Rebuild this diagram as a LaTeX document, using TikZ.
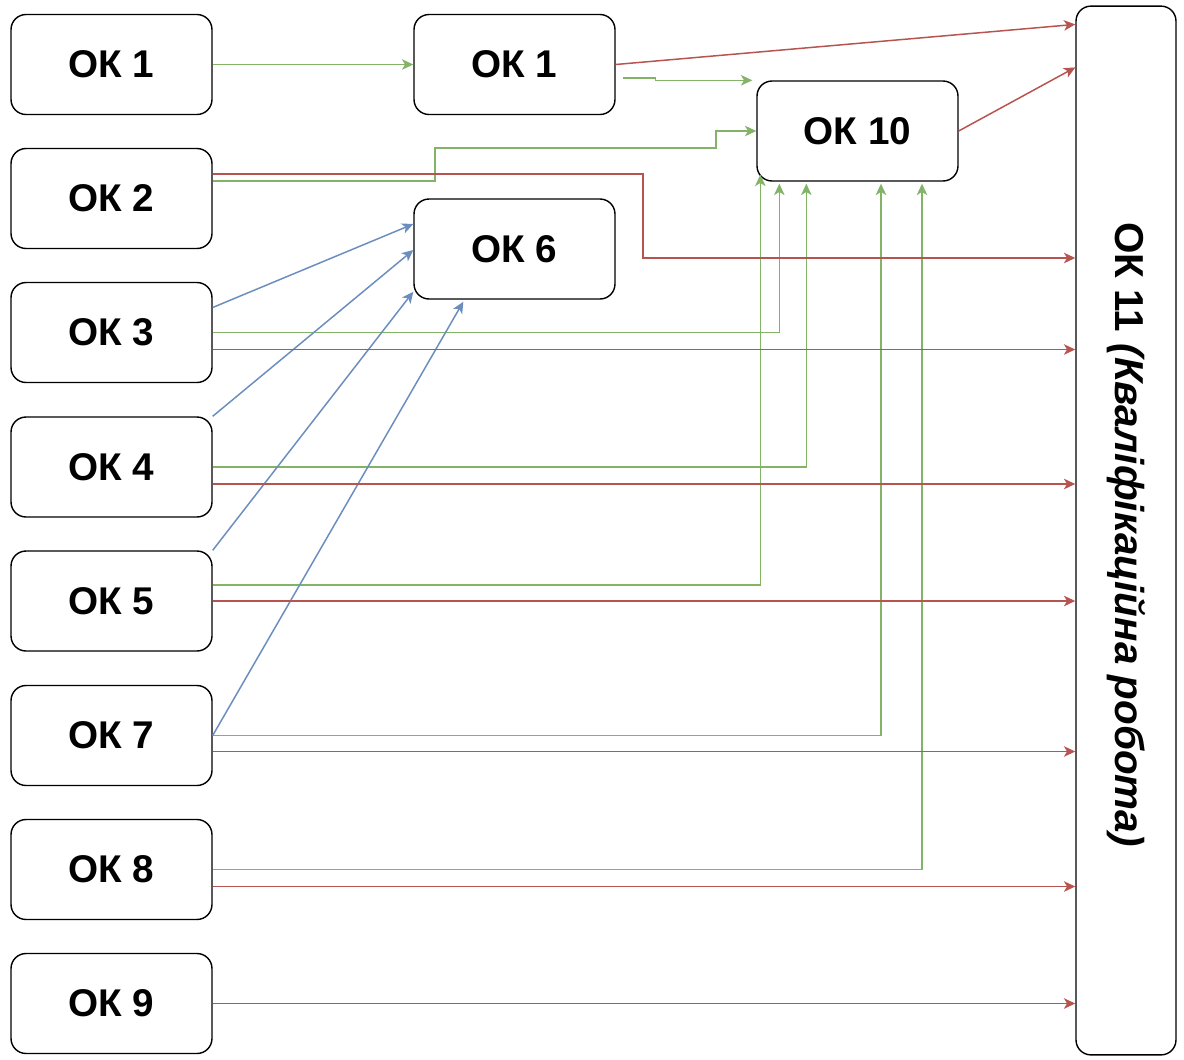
\documentclass[tikz,border=0pt]{standalone}
\usepackage{fontspec}
\setmainfont{Liberation Sans}
\usetikzlibrary{arrows.meta,calc}
\definecolor{okgreen}{HTML}{82B366}
\definecolor{okred}{HTML}{B85450}
\definecolor{okblue}{HTML}{6C8EBF}
\tikzset{
    okbox/.style={draw, rounded corners=0.3cm, line width=0.8pt,
        minimum width=4.02cm, minimum height=2cm,
        font=\fontsize{22}{26}\selectfont\bfseries},
    okarr/.style={line width=0.85pt, -{Stealth[length=6.5pt,width=6pt,inset=1.8pt]}},
    grnarr/.style={okarr, draw=okgreen},
    redarr/.style={okarr, draw=okred},
    bluarr/.style={okarr, draw=okblue}
}
\begin{document}
\begin{tikzpicture}[x=0.02cm, y=-0.02cm]
    \useasboundingbox (0,0) rectangle (1184,1059);
    % left column
    \foreach \n/\y in {1/64.5, 2/198.5, 3/332.5, 4/467, 5/601, 7/735.5, 8/869.5, 9/1003.5} {
        \node[okbox] (k\n) at (111.5,\y) {ОК \n};
    }
    \node[okbox] (m1) at (514.5,64.5) {ОК 1};
    \node[okbox] (k6) at (514.5,249) {ОК 6};
    \node[okbox] (k10) at (857.5,131) {ОК 10};
    \node[okbox, minimum width=2cm, minimum height=20.98cm] (k11) at (1126,530.5) {};
    \node[rotate=-90, font=\fontsize{23}{27}\selectfont\bfseries] (k11txt) at ($(k11.center)+(0,4)$)
        {ОК 11 \textit{(Кваліфікаційна робота)}};

    % green links
    \draw[grnarr] (k1.east) -- (m1.west);
    \draw[grnarr] ($(m1.east)+(7,13.5)$) -- ++(33,0) |- ($(k10.north west)+(-4,0)$);
    \draw[grnarr] ($(k2.east)+(0,-17.5)$) -| (435,148) -| (716,131) -- (k10.west);
    \draw[grnarr] (k3.east) -| ($(k10.south west)+(23,2)$);
    \draw[grnarr] (k4.east) -| ($(k10.south west)+(50,2)$);
    \draw[grnarr] ($(k5.east)+(0,-16)$) -| ($(k10.south west)+(4,-7)$);
    \draw[grnarr] (k7.east) -| ($(k10.south)+(23.5,2)$);
    \draw[grnarr] (k8.east) -| ($(k10.south)+(64.5,2)$);

    % blue links
    \draw[bluarr] ($(k3.east)+(0,-25)$) -- ($(k6.west)+(0,-25)$);
    \draw[bluarr] (k4.north east) -- ($(k6.west)+(0,1)$);
    \draw[bluarr] (k5.north east) -- ($(k6.south west)+(0,-8)$);
    \draw[bluarr] (k7.east) -- ($(k6.south west)+(50,2)$);

    % red links
    \draw[redarr] (m1.east) -- ($(k11.north west)+(0,19)$);
    \draw[redarr] (k10.east) -- ($(k11.north west)+(0,62)$);
    \draw[redarr] ($(k2.east)+(0,-24.5)$) -| (643,258) coordinate (r2) -- (r2 -| k11.west);
    \foreach \i/\dy in {3/17, 4/17, 5/0, 7/16, 8/17, 9/0} {
        \draw[redarr] ($(k\i.east)+(0,\dy)$) coordinate (r\i) -- (r\i -| k11.west);
    }
\end{tikzpicture}
\end{document}
